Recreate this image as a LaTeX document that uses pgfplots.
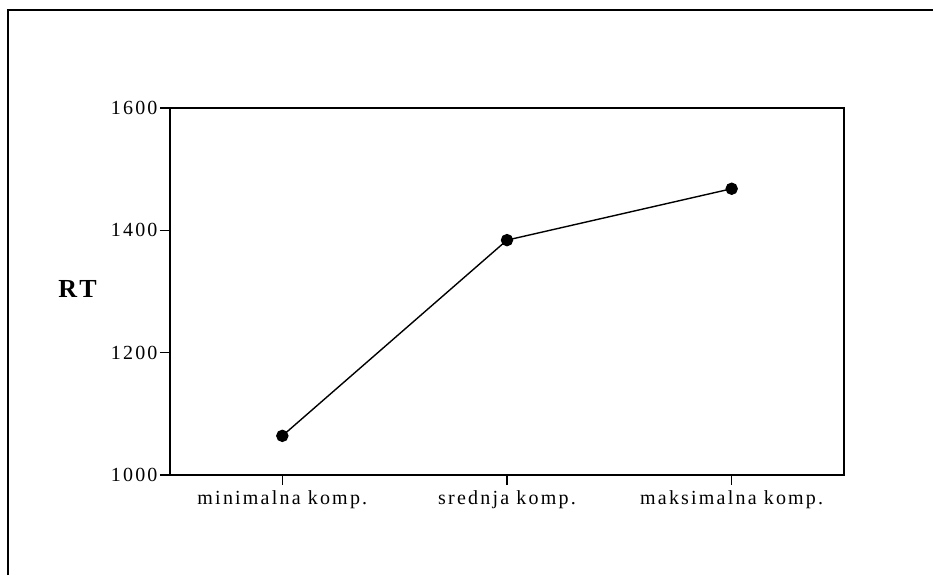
\documentclass[border=0pt]{standalone}
\usepackage{pgfplots}
\pgfplotsset{compat=1.18}
\usepackage{fontspec}
\setmainfont{Liberation Serif}
\newfontfamily\tickfont[LetterSpace=11]{Liberation Serif}
\newfontfamily\labfont[LetterSpace=12]{Liberation Serif}
\begin{document}
\begin{tikzpicture}[x=1pt,y=1pt]
\useasboundingbox (0,0) rectangle (933,575);
\draw[line width=2pt] (8,0) -- (8,565) -- (940,565);
\begin{axis}[
  at={(170pt,100pt)}, anchor=south west,
  scale only axis, width=674pt, height=367pt,
  xmin=-0.5, xmax=2.5, ymin=1000, ymax=1600,
  xtick={0,1,2},
  xticklabels={minimalna komp., srednja komp., maksimalna komp.},
  ytick={1000,1200,1400,1600},
  tick pos=left, tick align=outside,
  major tick length=10pt,
  every tick/.style={line width=1.3pt, black},
  axis line style={line width=1.3pt},
  tick label style={font=\tickfont\fontsize{20}{22}\selectfont},
  /pgf/number format/assume math mode=true,
  /pgf/number format/set thousands separator={},
  yticklabel style={xshift=1pt},
  xticklabel style={yshift=-2pt},
  ylabel={\labfont\bfseries\fontsize{26}{28}\selectfont RT},
  ylabel style={rotate=-90, at={(ticklabel cs:0.5)}, anchor=center, xshift=-30pt, yshift=3pt},
  clip=false,
]
\addplot[black, line width=1.4pt, mark=*, mark size=5.5pt] coordinates {
  (0,1064) (1,1384) (2,1468)
};
\end{axis}
\end{tikzpicture}
\end{document}
